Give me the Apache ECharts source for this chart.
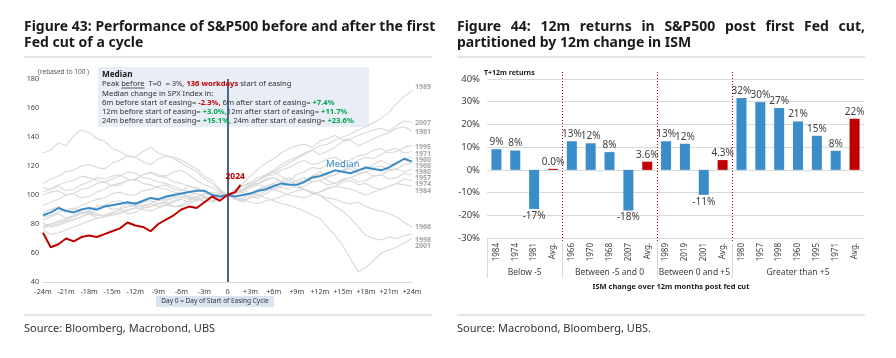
<!DOCTYPE html>
<html><head><meta charset="utf-8">
<script src="https://cdn.jsdelivr.net/npm/echarts/dist/echarts.min.js"></script>
<style>html,body{margin:0;padding:0;background:#fff}#c{width:896px;height:358px}</style>
</head><body><div id="c"></div>
<script>
// ---------------- Left chart data (rebased to 100 at T=0), monthly from -24m to +24m ----------------
const months = [-24,-23,-22,-21,-20,-19,-18,-17,-16,-15,-14,-13,-12,-11,-10,-9,-8,-7,-6,-5,-4,-3,-2,-1,0,1,2,3,4,5,6,7,8,9,10,11,12,13,14,15,16,17,18,19,20,21,22,23,24];
const s1981 = [129,131,136,134,141,145,143,139,137,132, 130,127,126,130,133,129,127,125,122,119, 116,111,108,103,100,101,103,107,110,114, 117,121,124,126,129,131,128,130,133,137, 138,134,136,139,141,143,146,147,144];
const s1971 = [108,111,113,116,117,120,121,119,118,122, 124,127,126,123,121,125,127,126,124,121, 118,113,110,104,100,102,104,107,108,111, 112,109,110,114,116,119,118,121,122,119, 120,124,126,125,128,131,132,129,130];
const s1957 = [105,104,107,109,110,113,112,110,109,111, 113,116,115,112,111,109,108,106,104,102, 101,99,98,101,100,97,96,98,100,103, 104,106,108,105,106,109,110,107,108,111, 112,109,110,113,114,111,112,115,114];
const s1974 = [102,104,106,103,104,107,109,112,111,113, 114,111,110,114,116,114,113,116,117,114, 110,107,105,102,100,98,97,95,94,96, 97,99,101,103,104,101,102,105,106,109, 110,107,108,105,104,106,108,111,110];
const s1995 = [100,102,103,100,101,104,105,108,109,106, 107,110,111,114,115,113,112,109,108,106, 104,102,101,99,100,103,106,108,110,113, 114,117,119,122,124,121,122,125,126,123, 124,127,128,131,132,129,130,133,134];
const s2001 = [93,95,97,100,101,98,99,102,104,107, 108,110,111,108,107,105,104,102,101,98, 97,96,95,98,100,103,104,101,100,98, 96,94,93,91,89,86,84,78,72,65, 56,47,50,55,60,62,64,67,70];
const s1966 = [88,90,92,89,90,93,95,97,98,101, 102,100,100,103,104,106,107,104,103,106, 105,102,101,99,100,102,104,106,108,110, 112,109,108,105,104,101,100,98,97,95, 94,95,92,90,89,87,85,81,78];
const s1960 = [85,86,88,90,91,88,87,90,93,95, 96,94,92,95,98,96,97,99,101,99, 98,100,102,101,100,97,98,101,104,106, 108,110,112,109,110,113,116,113,114,117, 120,117,118,121,124,121,122,125,126];
const s1968 = [83,85,87,84,85,88,89,92,93,90, 91,94,95,92,94,97,98,100,101,98, 99,101,100,99,100,101,102,99,98,101, 104,106,108,110,112,109,110,112,114,117, 118,115,116,119,120,117,118,121,122];
const s1980 = [81,78,79,81,83,85,87,84,85,88, 90,87,88,91,92,94,95,92,93,96, 98,95,96,99,100,97,95,99,102,105, 108,105,104,107,110,113,114,110,108,110, 112,114,116,113,114,117,118,116,118];
const s1998 = [79,80,81,83,85,87,88,86,86,88, 90,92,93,95,96,94,94,96,98,100, 101,99,98,97,100,103,106,109,112,114, 116,113,110,107,104,102,100,96,92,89, 84,78,72,70,69,71,70,72,73];
const s1989 = [78,80,82,84,86,88,89,87,85,87, 88,90,91,93,94,92,93,95,97,95, 96,98,99,101,100,102,104,107,110,113, 116,119,122,125,128,131,134,135,138,140, 142,145,147,150,153,157,163,168,172];
const s2007 = [77,79,80,82,83,85,87,86,86,88, 90,92,93,91,92,94,96,98,99,97, 97,98,96,98,100,104,108,113,118,122, 125,129,132,134,135,133,137,139,141,138, 139,141,143,145,146,144,148,151,150];
const s1984 = [76,73,74,76,78,80,82,84,85,86, 87,89,91,90,89,91,93,92,92,94, 97,98,96,98,100,102,103,105,107,105, 104,102,100,99,98,100,102,104,106,105, 104,102,100,102,104,106,108,107,106];
const grayNames = ['1981','1971','1957','1974','1995','2001','1966','1960','1968','1980','1998','1989','2007','1984'];
const grayValues = [s1981,s1971,s1957,s1974,s1995,s2001,s1966,s1960,s1968,s1980,s1998,s1989,s2007,s1984];

const medianValues = [86,88,91,89,88,90,91,90,92,93, 94,95,94,96,98,97,99,100,101,102, 103,103,100,99,100,99,100,101,103,104, 106,108,107,107,109,112,113,115,117,116, 115,117,119,118,117,119,122,125,123];

const months2024 = [-24,-23,-22,-21,-20,-19,-18,-17,-16,-15,-14,-13,-12,-11,-10,-9,-8,-7,-6,-5,-4,-3,-2,-1,0,1,1.7];
const values2024 = [74,64,66,70,68,71,72,71,73,75,77,81,79,78,75,80,83,86,90,92,91,95,99,96,100,102,107];

const endLabelYears = ['1989','2007','1981','1995','1971','1960','1968','1980','1957','1974','1984','1966','1998','2001'];
const endLabelLevels = [174.5,149.7,143.4,133.1,128.3,124.1,120.0,115.9,111.7,107.6,102.8,77.9,69.0,64.8];
const leftXTicks = ['-24m','-21m','-18m','-15m','-12m','-9m','-6m','-3m','0','+3m','+6m','+9m','+12m','+15m','+18m','+21m','+24m'];

// ---------------- Right chart data ----------------
const ismCategories = ['1984','1974','1981','Avg.','1966','1970','1968','2007','Avg.','1989','2019','2001','Avg.','1980','1957','1998','1960','1995','1971','Avg.'];
const returns12m = [9.1,8.5,-17.2,0.0,12.6,11.7,7.8,-17.9,3.6,12.6,11.5,-11.0,4.3,31.6,29.8,27.2,21.3,15.0,8.4,22.5];
const returnLabels = ['9%','8%','-17%','0.0%','13%','12%','8%','-18%','3.6%','13%','12%','-11%','4.3%','32%','30%','27%','21%','15%','8%','22%'];
const ismGroups = ['Below -5','Between -5 and 0','Between 0 and +5','Greater than +5'];
const ismGroupSizes = [4,5,4,7];

// ---------------- Chart ----------------
const FF = '"Noto Sans", "Open Sans", sans-serif';
const chart = echarts.init(document.getElementById('c'));
const GRAY = '#d9d9d9';
const series = [];
grayValues.forEach((vals, i) => {
  series.push({type:'line', name:grayNames[i], xAxisIndex:0, yAxisIndex:0, silent:true, showSymbol:false,
    data: months.map((m,j)=>[m, vals[j]]), lineStyle:{color:GRAY, width:1.1}, z:2});
});
series.push({type:'line', name:'Median', xAxisIndex:0, yAxisIndex:0, silent:true, showSymbol:false,
  data: months.map((m,j)=>[m, medianValues[j]]), lineStyle:{color:'#3a8bc6', width:2}, z:4,
  markLine:{silent:true, symbol:['none','none'], label:{show:false}, lineStyle:{color:'#1f3a68', width:1.5, type:'solid'}, data:[{xAxis:0}]}});
series.push({type:'line', name:'2024', xAxisIndex:0, yAxisIndex:0, silent:true, showSymbol:false,
  data: months2024.map((m,j)=>[m, values2024[j]]), lineStyle:{color:'#c00000', width:2}, z:5});
series.push({type:'bar', xAxisIndex:1, yAxisIndex:1, barWidth:10, barMinHeight:1, silent:true,
  data: returns12m.map((v,i)=>({value:v, itemStyle:{color: ismCategories[i]==='Avg.' ? '#c00000' : '#3a8dc9'},
    label:{position: v<0 ? 'bottom' : 'top'}})),
  label:{show:true, fontFamily:FF, fontSize:10, color:'#404040', distance:2, formatter:p=>returnLabels[p.dataIndex]}});

chart.setOption({
  animation:false,
  textStyle:{fontFamily:FF},
  grid:[{left:43, top:79, width:369, height:203}, {left:487, top:79, width:377, height:159}],
  xAxis:[
    {type:'value', gridIndex:0, min:-24, max:24, interval:3,
      axisLine:{show:true, lineStyle:{color:'#d9d9d9'}}, axisTick:{show:false}, splitLine:{show:false},
      axisLabel:{fontSize:7.2, color:'#404040', margin:6, fontFamily:FF, showMinLabel:true, showMaxLabel:true, hideOverlap:false,
        formatter:v=>leftXTicks[Math.round((v+24)/3)]}},
    {type:'category', gridIndex:1, data:ismCategories, axisLine:{show:false}, axisTick:{show:false},
      axisLabel:{rotate:90, interval:0, fontSize:8, color:'#404040', margin:5, fontFamily:FF}}
  ],
  yAxis:[
    {type:'value', gridIndex:0, min:40, max:180, interval:20,
      axisLine:{show:true, lineStyle:{color:'#d9d9d9', width:2}}, axisTick:{show:false}, splitLine:{show:false},
      axisLabel:{fontSize:7.2, color:'#404040', margin:4, fontFamily:FF}},
    {type:'value', gridIndex:1, min:-30, max:40, interval:10, axisLine:{show:false}, axisTick:{show:false},
      splitLine:{lineStyle:{color:'#d9d9d9'}},
      axisLabel:{fontSize:9.5, color:'#404040', margin:7, fontFamily:FF, formatter:v=>v+'%'}}
  ],
  series
});

const mctx = document.createElement('canvas').getContext('2d');
function tw(text, font){ mctx.font = font; return mctx.measureText(text).width; }
function txt(x, y, text, font, fill, align, va, z) {
  return {type:'text', x, y, silent:true, z: z||50,
    style:{text, font, fill, textAlign:align||'left', textVerticalAlign:va||'middle', align:align||'left', verticalAlign:va||'middle'}};
}
function line(x1,y1,x2,y2,stroke,w,dash,z){
  return {type:'line', silent:true, z:z||40, shape:{x1,y1,x2,y2}, style:{stroke, lineWidth:w||1, lineDash:dash||null}};
}
const g = [];
// Titles
const TF = 'bold 14px ' + FF;
g.push(txt(24, 27, 'Figure 43: Performance of S&P500 before and after the first', TF, '#1a1a1a'));
g.push(txt(24, 43, 'Fed cut of a cycle', TF, '#1a1a1a'));
const rightWords = 'Figure 44: 12m returns in S&P500 post first Fed cut,'.split(' ');
const wWidths = rightWords.map(w=>tw(w, TF));
const gap = (865 - 457 - wWidths.reduce((a,b)=>a+b,0)) / (rightWords.length - 1);
let wx = 457;
rightWords.forEach((w,i)=>{ g.push(txt(wx, 27, w, TF, '#1a1a1a')); wx += wWidths[i] + gap; });
g.push(txt(457, 43, 'partitioned by 12m change in ISM', TF, '#1a1a1a'));
g.push(line(24,57,432,57,'#c8c8c8',1));
g.push(line(457,57,865,57,'#c8c8c8',1));
g.push(line(24,315,432,315,'#c8c8c8',1));
g.push(line(457,315,865,315,'#c8c8c8',1));
g.push(txt(24, 329, 'Source: Bloomberg, Macrobond, UBS', '11px ' + FF, '#333'));
g.push(txt(457, 329, 'Source: Macrobond, Bloomberg, UBS.', '11px ' + FF, '#333'));

// Left chart annotations
g.push(txt(38, 72, '(rebased to 100 )', '6.5px ' + FF, '#595959'));
g.push({type:'rect', silent:true, z:1, shape:{x:98, y:67, width:271, height:60}, style:{fill:'#e8edf6'}});
const AS = 7.6;
const AF = AS + 'px ' + FF;
const rich = {
  n:{font:AF, fill:'#333'},
  b:{font:'bold ' + (AS+0.6) + 'px ' + FF, fill:'#1a1a1a'},
  r:{font:'bold ' + AS + 'px ' + FF, fill:'#c00000'},
  g:{font:'bold ' + AS + 'px ' + FF, fill:'#00a651'}
};
const annLines = [
  '{b|Median}',
  '{n|Peak before  T=0  = 3%, }{r|136 workdays}{n| start of easing}',
  '{n|Median change in SPX Index in:}',
  '{n|6m before start of easing= }{r|-2.3%,}{n| 6m after start of easing= }{g|+7.4%}',
  '{n|12m before start of easing= }{g|+3.0%,}{n|12m after start of easing= }{g|+11.7%}',
  '{n|24m before start of easing= }{g|+15.1%,}{n| 24m after start of easing= }{g|+23.6%}'
];
const annY = [75, 84, 93.5, 103, 112, 121];
annLines.forEach((t,i)=>{
  g.push({type:'text', x:102, y:annY[i], silent:true, z:45, style:{text:t, rich, font:AF, textVerticalAlign:'middle', verticalAlign:'middle'}});
});
const ux = 102 + tw('Peak ', AF);
g.push(line(ux, 88, ux + tw('before', AF), 88, '#333', 0.8, null, 46));
g.push({type:'rect', silent:true, z:30, shape:{x:156, y:296, width:118, height:11}, style:{fill:'#dae3f0'}});
g.push(txt(215, 301.5, 'Day 0 = Day of Start of Easing Cycle', '6.5px ' + FF, '#333', 'center'));

const p = (m,v)=>chart.convertToPixel({gridIndex:0}, [m,v]);
endLabelYears.forEach((y,i)=>{
  const pt = p(24, endLabelLevels[i]);
  g.push(txt(pt[0]+3, pt[1], y, 'bold 7px ' + FF, '#a6a6a6'));
});
const mp = p(15, 121.4);
g.push(txt(mp[0], mp[1], 'Median', '9.5px ' + FF, '#3a8bc6', 'center'));
const rp = p(1, 112.4);
g.push(txt(rp[0], rp[1], '2024', 'bold 8.5px ' + FF, '#c00000', 'center'));

// Right chart annotations
g.push(txt(484, 73, 'T+12m returns', 'bold 7px ' + FF, '#1a1a1a'));
const catX = ismCategories.map((c,i)=>chart.convertToPixel({xAxisIndex:1, yAxisIndex:1}, [i, 0])[0]);
const step = catX[1]-catX[0];
let start = 0;
g.push(line(Math.round(catX[0]-step/2)+0.5, 238, Math.round(catX[0]-step/2)+0.5, 278, '#d9d9d9', 1));
ismGroups.forEach((name,k)=>{
  const end = start + ismGroupSizes[k];
  const cxm = (catX[start] + catX[end-1]) / 2;
  g.push(txt(cxm, 273, name, '8.5px ' + FF, '#404040', 'center'));
  if (k > 0) {
    const bx = Math.round(catX[start]-step/2)+0.5;
    g.push(line(bx, 72, bx, 243, '#c00000', 1, [1,2]));
    g.push(line(bx, 243, bx, 278, '#d9d9d9', 1));
  }
  start = end;
});
g.push(txt(671, 287, 'ISM change over 12m months post fed cut', 'bold 7.5px ' + FF, '#1a1a1a', 'center'));

chart.setOption({graphic:{elements:g}});
</script></body></html>
